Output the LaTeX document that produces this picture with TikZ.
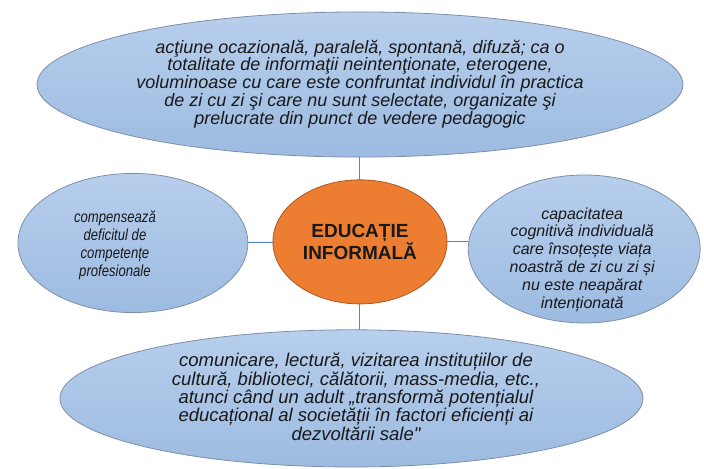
\documentclass[tikz,border=0pt]{standalone}
\usepackage{fontspec}
\setmainfont{Liberation Sans}[ItalicFont={Liberation Sans Italic},BoldFont={Liberation Sans Bold},Ligatures=TeXOff]
\newfontfamily\ingust{Liberation Sans}[FakeStretch=0.82,ItalicFont={Liberation Sans Italic}]
\usetikzlibrary{shapes.geometric}
\definecolor{bdd2ec}{rgb}{0.72,0.81,0.93}
\definecolor{aqbcdf}{rgb}{0.615,0.733,0.88}
\definecolor{ebeline}{rgb}{0.49,0.56,0.66}
\definecolor{ed7d31}{rgb}{0.929,0.49,0.192}
\definecolor{aa5a22}{rgb}{0.667,0.353,0.133}
\definecolor{dzblue}{rgb}{0.31,0.525,0.776}
\definecolor{txtblk}{rgb}{0.1,0.1,0.1}

\begin{document}
\begin{tikzpicture}[line cap=round,line join=round,x=1.0cm,y=1.0cm,
  blob/.style={ellipse,draw=ebeline,line width=0.8pt,top color=bdd2ec,bottom color=aqbcdf,inner sep=0pt},
  txt/.style={align=center,inner sep=0pt,text=txtblk}]
\useasboundingbox (0,0) rectangle (24.74,16.48);
\node[blob,minimum width=22.70cm,minimum height=5.10cm] (sus) at (12.65,13.51) {};
\node[blob,minimum width=8.08cm,minimum height=4.89cm] (stanga) at (4.67,7.94) {};
\node[blob,minimum width=8.15cm,minimum height=5.20cm] (dreapta) at (20.53,7.73) {};
\node[blob,minimum width=20.49cm,minimum height=4.82cm] (jos) at (12.35,2.48) {};
\node[ellipse,draw=aa5a22,line width=0.8pt,fill=ed7d31,inner sep=0pt,minimum width=6.12cm,minimum height=4.36cm,align=center,text=txtblk,font=\fontsize{19}{18}\selectfont\bfseries] (centru) at (12.65,7.98) {EDUCAȚIE\\INFORMALĂ};
\draw[color=dzblue,line width=1pt] (centru) -- (sus);
\draw[color=dzblue,line width=1pt] (centru) -- (stanga);
\draw[color=dzblue,line width=1pt] (centru.east) -- (centru.east -| dreapta.west);
\draw[color=dzblue,line width=1pt] (centru.south) -- (centru.south |- jos.north);
\node[txt,font=\fontsize{18}{17.8}\selectfont\itshape] (sustxt) at (12.65,13.53) {acţiune ocazională, paralelă, spontană, difuză; ca o\\totalitate de informaţii neintenţionate, eterogene,\\voluminoase cu care este confruntat individul în practica\\de zi cu zi şi care nu sunt selectate, organizate şi\\prelucrate din punct de vedere pedagogic};
\node[txt,font=\fontsize{16}{18}\selectfont\ingust\itshape] (stangatxt) at (4.04,7.86) {compensează\\deficitul de\\competențe\\profesionale};
\node[txt,font=\fontsize{16}{17.8}\selectfont\itshape] (dreaptatxt) at (20.46,7.36) {capacitatea\\cognitivă individuală\\care însoțește viața\\noastră de zi cu zi și\\nu este neapărat\\intenționată};
\node[txt,font=\fontsize{18.5}{17.5}\selectfont\itshape] (jostxt) at (12.51,2.53) {comunicare, lectură, vizitarea instituțiilor de\\cultură, biblioteci, călătorii, mass-media, etc.,\\atunci când un adult „transformă potențialul\\educațional al societății în factori eficienți ai\\dezvoltării sale"};
\end{tikzpicture}
\end{document}
